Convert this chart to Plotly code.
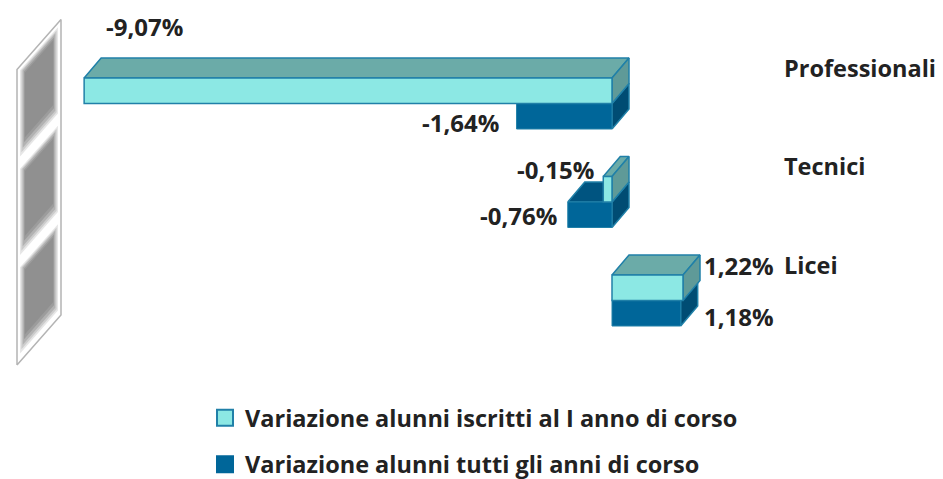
import plotly.graph_objects as go

# ---- data ----
categories = ["Licei", "Tecnici", "Professionali"]
iscritti_primo_anno = [1.22, -0.15, -9.07]
tutti_gli_anni = [1.18, -0.76, -1.64]
serie_primo = "Variazione alunni iscritti al I anno di corso"
serie_tutti = "Variazione alunni tutti gli anni di corso"

# ---- style / geometry ----
W, H = 943, 479
PX_X = 58.2      # pixels per percentage point
PX_Y = 98.5      # pixels per category row
ZERO_PX = 612
ROW0_PX = 300.5
PLOT_RIGHT = 778
BAR_H = 25.5 / PX_Y
DX, DY = 17 / PX_X, 20 / PX_Y
WALL_DX, WALL_DY = 44 / PX_X, 50 / PX_Y
WALL_X = (17 - ZERO_PX) / PX_X
WALL_Y0 = (ROW0_PX - 365) / PX_Y
xr = [(0 - ZERO_PX) / PX_X, (PLOT_RIGHT - ZERO_PX) / PX_X]
yr = [(ROW0_PX - H) / PX_Y, ROW0_PX / PX_Y]

C_LIGHT, C_LIGHT_TOP, C_LIGHT_SIDE = "#8CE8E4", "#6BABA8", "#5F9A98"
C_DARK, C_DARK_TOP, C_DARK_SIDE = "#006699", "#005480", "#004C73"
C_EDGE = "#2080A8"
C_TEXT = "#222222"
FONT = "Open Sans"
TEXT_SIZE = 23.5
LABEL_SIZE = 24
ys = list(range(len(categories)))
fig = go.Figure()


def poly(pts, fill, line=C_EDGE, lw=1.5):
    fig.add_trace(go.Scatter(
        x=[p[0] for p in pts] + [pts[0][0]], y=[p[1] for p in pts] + [pts[0][1]],
        mode="lines", fill="toself", fillcolor=fill, line=dict(color=line, width=lw),
        hoverinfo="skip", showlegend=False))


# back wall: three shaded bands seen in perspective
def wall_pt(u, v):
    return (WALL_X + u * WALL_DX, WALL_Y0 + v + u * WALL_DY)


n_bands = len(categories)
poly([wall_pt(0, 0), wall_pt(1, 0), wall_pt(1, n_bands), wall_pt(0, n_bands)], "#FFFFFF", "#B4B4B4", 1.5)
levels = [(0.07, 0.08, "#E6E6E6"), (0.10, 0.11, "#CCCCCC"), (0.13, 0.14, "#B2B2B2"),
          (0.16, 0.18, "#9C9C9C"), (0.18, 0.22, "#909090")]
for iu, iv, col in levels:
    xs, yy = [], []
    for b in range(n_bands):
        corners = [wall_pt(iu, b + iv), wall_pt(1 - iu, b + iv),
                   wall_pt(1 - iu, b + 1 - iv * 0.55), wall_pt(iu, b + 1 - iv * 0.55), wall_pt(iu, b + iv)]
        xs += [c[0] for c in corners] + [None]
        yy += [c[1] for c in corners] + [None]
    fig.add_trace(go.Scatter(x=xs, y=yy, mode="lines", fill="toself", fillcolor=col,
                             line=dict(width=0), hoverinfo="skip", showlegend=False))


# top and side faces, computed from the values
def faces(values, y_low, col_top, col_side):
    for row, v in zip(ys, values):
        y0 = row + y_low
        y1 = y0 + BAR_H
        end = max(v, 0)
        poly([(min(v, 0), y1), (max(v, 0), y1), (max(v, 0) + DX, y1 + DY), (min(v, 0) + DX, y1 + DY)], col_top)
        poly([(end, y0), (end + DX, y0 + DY), (end + DX, y1 + DY), (end, y1)], col_side)


faces(tutti_gli_anni, -BAR_H, C_DARK_TOP, C_DARK_SIDE)
faces(iscritti_primo_anno, 0, C_LIGHT_TOP, C_LIGHT_SIDE)

# front faces on an overlaying pair of axes, so they stay above the 3D faces
gap = 1 - 2 * BAR_H
fig.add_trace(go.Bar(y=ys, x=tutti_gli_anni, orientation="h", xaxis="x2", yaxis="y2",
                     marker=dict(color=C_DARK, line=dict(color=C_EDGE, width=1)), showlegend=False,
                     name=serie_tutti))
fig.add_trace(go.Bar(y=ys, x=iscritti_primo_anno, orientation="h", xaxis="x2", yaxis="y2",
                     marker=dict(color=C_LIGHT, line=dict(color=C_EDGE, width=1.5)), showlegend=False,
                     name=serie_primo))

# legend entries
for i, (name, col, edge) in enumerate([(serie_primo, C_LIGHT, C_EDGE), (serie_tutti, C_DARK, C_DARK)]):
    fig.add_trace(go.Scatter(x=[None], y=[None], mode="markers", name=name, legendgroup=str(i),
                             marker=dict(symbol="square", size=16, color=col, line=dict(color=edge, width=2))))


# value labels
def fmt(v):
    return f"{v:.2f}".replace(".", ",") + "%"


label_style = dict(xanchor="center", yanchor="middle", showarrow=False,
                   font=dict(family=FONT, size=LABEL_SIZE, color=C_TEXT, weight=700))
for vals, offs in [(iscritti_primo_anno, {0: (56, 35), 1: (-48, 33), 2: (60, 77)}),
                   (tutti_gli_anni, {0: (58, -16), 1: (-49, -13), 2: (-56, -18.5)})]:
    for row, v in zip(ys, vals):
        sx, sy = offs[row]
        fig.add_annotation(x=v, y=row, text=fmt(v), xshift=sx, yshift=sy, **label_style)

fig.update_layout(
    width=W, height=H, margin=dict(l=0, r=0, t=0, b=0, autoexpand=False), autosize=False,
    paper_bgcolor="white", plot_bgcolor="rgba(0,0,0,0)",
    barmode="group", bargap=gap, bargroupgap=0,
    xaxis=dict(range=xr, domain=[0, PLOT_RIGHT / W], visible=False, fixedrange=True),
    yaxis=dict(range=yr, domain=[0, 1], side="right", tickmode="array",
               tickvals=[r + 0.355 for r in ys], ticktext=categories, showgrid=False, zeroline=False,
               showline=False, ticks="", ticklabelstandoff=5,
               tickfont=dict(family=FONT, size=TEXT_SIZE, color=C_TEXT, weight=700), fixedrange=True),
    xaxis2=dict(range=xr, domain=[0, PLOT_RIGHT / W], overlaying="x", visible=False, anchor="y2", fixedrange=True),
    yaxis2=dict(range=yr, domain=[0, 1], overlaying="y", visible=False, anchor="x2", fixedrange=True),
    legend=dict(x=205 / W, xanchor="left", y=1 - 396 / H, yanchor="top", tracegroupgap=13,
                font=dict(family=FONT, size=TEXT_SIZE, color=C_TEXT, weight=700), bgcolor="rgba(0,0,0,0)",
                itemclick=False, itemdoubleclick=False),
    showlegend=True,
)
fig.write_html("out.html", config={"displayModeBar": False},
               post_script="document.body.style.margin='0';")
